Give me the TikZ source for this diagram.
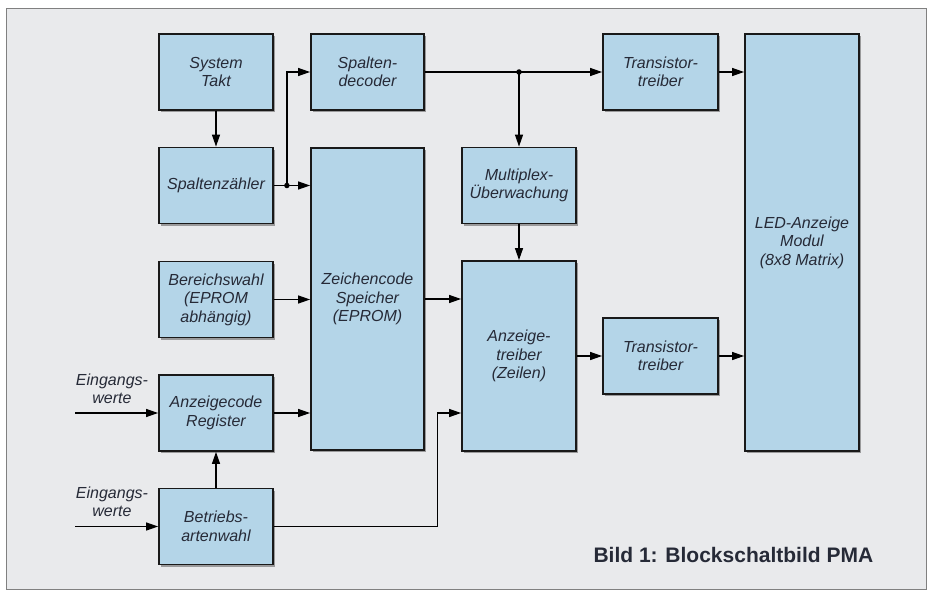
\documentclass[tikz,border=0pt]{standalone}
\usepackage{fontspec}
\setmainfont{Liberation Sans}
\usetikzlibrary{arrows.meta,shadows}
\definecolor{boxblue}{RGB}{180,213,232}
\definecolor{panel}{RGB}{233,234,236}
\definecolor{ink}{RGB}{38,42,55}
\tikzset{
  block/.style={draw=black!90, line width=1.8pt, fill=boxblue, inner sep=0pt,
    minimum width=114pt, minimum height=76pt, align=center,
    font=\fontsize{16}{18.5}\selectfont\itshape, text=ink,
    drop shadow={shadow xshift=2pt, shadow yshift=-2pt, fill=black!60, opacity=.6}},
  arr/.style={line width=1.2pt, -{Triangle[length=12pt,width=8pt]}},
  dot/.style={circle, fill=black, inner sep=0pt, minimum size=5.5pt}
}
\begin{document}
\begin{tikzpicture}[x=1pt, y=-1pt]
    \useasboundingbox (0,0) rectangle (928,591);
    \fill[white] (0,0) rectangle (928,591);
    \draw[fill=panel, draw=black!50, line width=1pt] (6,9) rectangle (926,589);
    \node (takt) at (216,72) [block] {System\\Takt};
    \node (zaehler) at (216,185.5) [block] {Spaltenzähler};
    \node (bereich) at (216,299.5) [block] {Bereichswahl\\(EPROM\\abhängig)};
    \node (register) at (216,413) [block] {Anzeigecode\\Register};
    \node (betrieb) at (216,526.5) [block] {Betriebs-\\artenwahl};
    \node (decoder) at (367.5,72) [block, minimum width=113pt] {Spalten-\\decoder};
    \node (speicher) at (367.5,299) [block, minimum width=113pt, minimum height=302pt] {Zeichencode\\Speicher\\(EPROM)};
    \node (multiplex) at (519,185.5) [block] {Multiplex-\\Überwachung};
    \node (treiber) at (519,356) [block, minimum height=190pt] {Anzeige-\\treiber\\(Zeilen)};
    \node (trans1) at (660.5,72) [block, minimum width=115pt] {Transistor-\\treiber};
    \node (trans2) at (660.5,356) [block, minimum width=115pt] {Transistor-\\treiber};
    \node (led) at (802,242.5) [block, minimum height=417pt] {LED-Anzeige\\Modul\\(8x8 Matrix)};
    \node (ein1) at (112,389) [align=center, font=\fontsize{16}{18.5}\selectfont\itshape, text=ink] {Eingangs-\\werte};
    \node (ein2) at (112,502) [align=center, font=\fontsize{16}{18.5}\selectfont\itshape, text=ink] {Eingangs-\\werte};
    \node (titel) at (590,562) [anchor=base west, font=\fontsize{21}{24}\selectfont\bfseries, text=ink] {Bild 1: Blockschaltbild PMA};
    \coordinate (in1) at (75,413);
    \coordinate (in2) at (75,526.5);
    \coordinate (j1) at ([xshift=13pt]zaehler.east);
    \coordinate (j2) at (multiplex.north |- decoder.east);
    \coordinate (knick) at ([xshift=-24pt]treiber.west |- betrieb.east);
    \draw[arr] (takt) -- (zaehler);
    \draw[arr] (zaehler.east) -- (speicher.west |- zaehler.east);
    \draw[arr] (j1) |- (decoder.west);
    \draw[arr] (decoder.east) -- (trans1.west);
    \draw[arr] (j2) -- (multiplex.north);
    \draw[arr] (multiplex) -- (treiber);
    \draw[arr] (trans1.east) -- (led.west |- trans1.east);
    \draw[arr] (bereich.east) -- (speicher.west |- bereich.east);
    \draw[arr] (speicher.east) -- (treiber.west |- speicher.east);
    \draw[arr] (register.east) -- (speicher.west |- register.east);
    \draw[arr] (betrieb.east) -- (knick) |- (treiber.west |- register.east);
    \draw[arr] (betrieb) -- (register);
    \draw[arr] (in1) -- (register.west);
    \draw[arr] (in2) -- (betrieb.west);
    \draw[arr] (treiber.east) -- (trans2.west);
    \draw[arr] (trans2.east) -- (led.west |- trans2.east);
    \node at (j1) [dot] {};
    \node at (j2) [dot] {};
\end{tikzpicture}
\end{document}
